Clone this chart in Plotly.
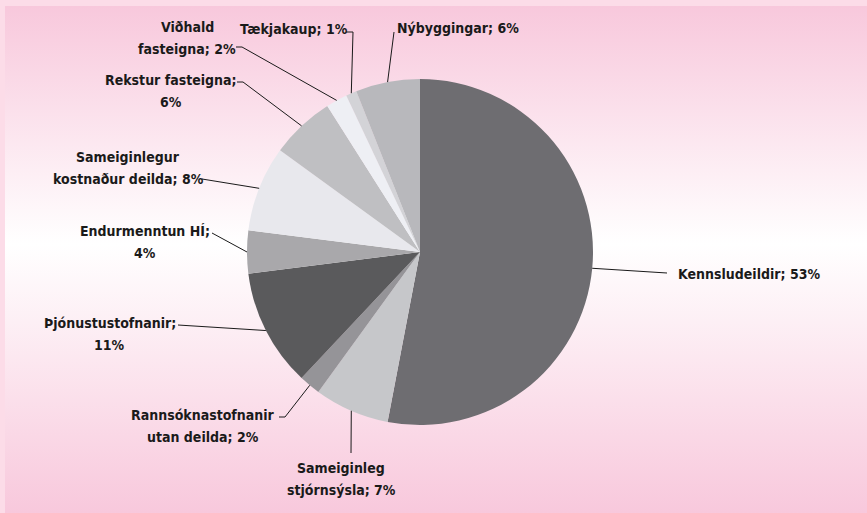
import base64
import math
import plotly.graph_objects as go

# ---- data ----
labels = ["Kennsludeildir", "Sameiginleg stjórnsýsla", "Rannsóknastofnanir utan deilda",
          "Þjónustustofnanir", "Endurmenntun HÍ", "Sameiginlegur kostnaður deilda",
          "Rekstur fasteigna", "Viðhald fasteigna", "Tækjakaup", "Nýbyggingar"]
values = [53, 7, 2, 11, 4, 8, 6, 2, 1, 6]
label_texts = ["Kennsludeildir; 53%", "Sameiginleg<br>stjórnsýsla; 7%",
               "Rannsóknastofnanir<br>utan deilda; 2%", "Þjónustustofnanir;<br>11%",
               "Endurmenntun HÍ;<br>4%", "Sameiginlegur<br>kostnaður deilda; 8%",
               "Rekstur fasteigna;<br>6%", "Viðhald<br>fasteigna; 2%",
               "Tækjakaup; 1%", "Nýbyggingar; 6%"]

# ---- style ----
colors = ["#6e6d71", "#c6c7ca", "#959498", "#5a5a5c", "#a9a8ab",
          "#e8e8ed", "#bfbfc2", "#eeeff4", "#d3d3d7", "#b8b8bc"]
W, H = 867, 513
CX, CY, R = 420, 252, 173
FONT = "DejaVu Sans Condensed, Liberation Sans Narrow, sans-serif"
LINE_GAP = 22

# label layout: (text x, text y, xanchor, elbow point, end point) in pixels
label_layout = [
    (676, 274, "left", (667, 273), None),
    (341, 479, "center", (351, 453), None),
    (203, 426, "center", (285, 417), (279, 417)),
    (110, 334, "center", (178, 325), None),
    (145, 242, "center", (212, 233), None),
    (128, 168, "center", (202, 179), None),
    (171, 91, "center", (243, 82), (237, 82)),
    (187, 38, "center", (242, 47), (236, 47)),
    (294, 29, "center", (353, 32), (346, 32)),
    (395, 28, "left", (394, 32), None),
]

def px(x):
    return x / W

def py(y):
    return 1 - y / H

fig = go.Figure()
fig.add_trace(go.Pie(
    labels=labels, values=values, sort=False, direction="clockwise", rotation=0,
    marker=dict(colors=colors, line=dict(width=0)),
    textinfo="none", hoverinfo="label+percent", showlegend=False,
    domain=dict(x=[px(CX - R), px(CX + R)], y=[py(CY + R), py(CY - R)]),
))

# background gradient via svg image
svg = f'''<svg xmlns="http://www.w3.org/2000/svg" width="{W}" height="{H}">
<defs><linearGradient id="g" x1="0" y1="0" x2="0" y2="1">
<stop offset="0" stop-color="#f8c8dc"/>
<stop offset="0.47" stop-color="#ffffff"/>
<stop offset="1" stop-color="#f8c8dc"/>
</linearGradient></defs>
<rect width="{W}" height="{H}" fill="#fcdce8"/>
<rect x="5" y="6" width="{W-5}" height="{H-6}" fill="url(#g)"/>
</svg>'''
src = "data:image/svg+xml;base64," + base64.b64encode(svg.encode()).decode()

shapes = []
annotations = []
total = sum(values)
cum = 0
for v, txt, lay in zip(values, label_texts, label_layout):
    mid = (cum + v / 2) / total * 2 * math.pi
    cum += v
    ax = CX + R * math.sin(mid)
    ay = CY - R * math.cos(mid)
    tx, ty, anchor, elbow, end = lay
    path = f"M {px(ax)} {py(ay)} L {px(elbow[0])} {py(elbow[1])}"
    if end:
        path += f" L {px(end[0])} {py(end[1])}"
    shapes.append(dict(type="path", xref="paper", yref="paper", path=path,
                       line=dict(color="#1a1a1a", width=1)))
    lines = txt.split("<br>")
    n = len(lines)
    for i, ln in enumerate(lines):
        ly = ty + (i - (n - 1) / 2) * LINE_GAP
        annotations.append(dict(x=px(tx), y=py(ly), xref="paper", yref="paper",
                                text="<b>" + ln + "</b>",
                                showarrow=False, xanchor=anchor, yanchor="middle",
                                align="center",
                                font=dict(family=FONT, size=14, color="#1a1a1a")))

fig.update_layout(
    width=W, height=H, margin=dict(l=0, r=0, t=0, b=0),
    paper_bgcolor="#fcdce8",
    images=[dict(source=src, xref="paper", yref="paper", x=0, y=1, sizex=1, sizey=1,
                 xanchor="left", yanchor="top", sizing="stretch", layer="below")],
    shapes=shapes, annotations=annotations,
)
fig.write_html("out.html", config={"displayModeBar": False},
               post_script="document.body.style.margin='0';")
